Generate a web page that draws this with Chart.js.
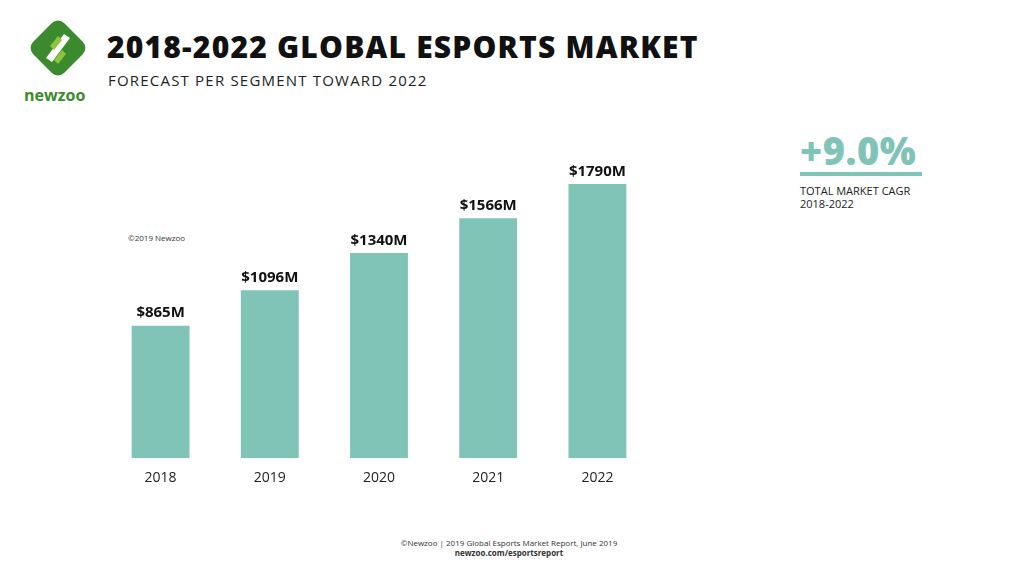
<!DOCTYPE html>
<html><head><meta charset="utf-8">
<script src="https://cdn.jsdelivr.net/npm/chart.js@4"></script>
<style>
body{margin:0;width:1024px;height:573px;background:#fff;font-family:"Open Sans",sans-serif;position:relative;overflow:hidden;color:#111}
.t{position:absolute;left:107px;top:26px;font-size:30px;font-weight:800;letter-spacing:1.2px}
.s{position:absolute;left:108px;top:70px;font-size:15px;color:#222;letter-spacing:1.2px}
.c{position:absolute;left:128px;top:232px;font-size:8px;color:#333}
.cagr{position:absolute;left:800px;top:124px;font-size:38px;font-weight:800;color:#80c4b8;letter-spacing:0.5px}
.line{position:absolute;left:800px;top:172px;width:122px;height:4px;background:#80c4b8}
.cl{position:absolute;left:800px;top:184px;font-size:11px;line-height:13px;color:#222}
.f{position:absolute;top:538px;width:1024px;text-align:center;font-size:8px;line-height:10px;color:#333;left:-3px}
#w{position:absolute;left:106px;top:149px;width:546px;height:340px}
</style></head><body>
<svg style="position:absolute;left:24px;top:18px" width="68" height="68" viewBox="0 0 68 68">
<rect x="12" y="8" width="44" height="44" rx="9" transform="rotate(45 34 30)" fill="#3c8a2e"/>
<path d="M22 40 L40 16 L46 20 L28 44Z" fill="#fff"/>
<path d="M26 28 L34 18 L38 22 L30 32Z" fill="#8cc63f"/>
<path d="M30 42 L38 32 L42 36 L34 46Z" fill="#8cc63f"/>
</svg>
<div style="position:absolute;left:24px;top:84px;font-size:16px;font-weight:700;color:#3c8a2e">newzoo</div>
<div class="t">2018-2022 GLOBAL ESPORTS MARKET</div>
<div class="s">FORECAST PER SEGMENT TOWARD 2022</div>
<div class="c">©2019 Newzoo</div>
<div class="cagr">+9.0%</div><div class="line"></div>
<div class="cl">TOTAL MARKET CAGR<br>2018-2022</div>
<div class="f">©Newzoo | 2019 Global Esports Market Report, June 2019<br><b>newzoo.com/esportsreport</b></div>
<div id="w"><canvas id="ch"></canvas></div>
<script>
const years=["2018","2019","2020","2021","2022"];
const revenue=[865,1096,1340,1566,1790];
const valueLabels=["$865M","$1096M","$1340M","$1566M","$1790M"];
const lbl={id:"lbl",afterDatasetsDraw(c){const x=c.ctx;const m=c.getDatasetMeta(0);x.save();x.font="bold 15px 'Open Sans'";x.fillStyle="#111";x.textAlign="center";x.textBaseline="bottom";m.data.forEach((b,i)=>x.fillText(valueLabels[i],b.x,b.y-5));x.restore();}};
new Chart(document.getElementById("ch"),{type:"bar",data:{labels:years,datasets:[{data:revenue,backgroundColor:"#80c4b8",categoryPercentage:1,barPercentage:0.53}]},
options:{responsive:true,maintainAspectRatio:false,animation:false,plugins:{legend:{display:false},tooltip:{enabled:false}},layout:{padding:0},
scales:{y:{display:false,min:0,max:2018},x:{grid:{display:false},border:{display:false},ticks:{color:"#222",font:{size:14,family:"Open Sans"},padding:3}}}},plugins:[lbl]});
</script></body></html>
